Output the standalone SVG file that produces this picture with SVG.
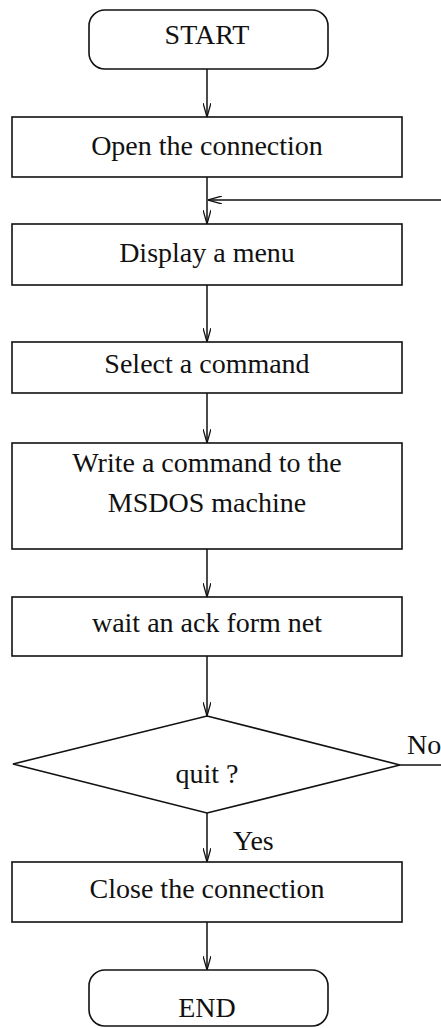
<svg xmlns="http://www.w3.org/2000/svg" width="441" height="1028" viewBox="0 0 441 1028">
  <style>
    .box { fill: #ffffff; stroke: #111111; stroke-width: 1.6; }
    .lbl { font-family: "Liberation Serif", "Times New Roman", serif; font-size: 28px; fill: #111111; text-anchor: middle; }
    .side { font-family: "Liberation Serif", "Times New Roman", serif; font-size: 28px; fill: #111111; }
    .wire { fill: none; stroke: #111111; stroke-width: 1.5; }
  </style>
  <defs>
    <!-- open V arrowhead -->
    <marker id="v" viewBox="0 0 14 8" refX="14" refY="4" markerWidth="14" markerHeight="8" markerUnits="userSpaceOnUse" orient="auto">
      <path d="M0,0 L14,4 L0,8" fill="none" stroke="#111111" stroke-width="1.3"/>
    </marker>
  </defs>
  <rect width="441" height="1028" fill="#ffffff"/>

  <g id="connectors">
    <path class="wire" d="M207,69 V117" marker-end="url(#v)"/>
    <path class="wire" d="M207,177 V224" marker-end="url(#v)"/>
    <path class="wire" d="M441,200 H208" marker-end="url(#v)"/>
    <path class="wire" d="M207,285 V342" marker-end="url(#v)"/>
    <path class="wire" d="M207,393 V443" marker-end="url(#v)"/>
    <path class="wire" d="M207,549 V597" marker-end="url(#v)"/>
    <path class="wire" d="M207,656 V716" marker-end="url(#v)"/>
    <path class="wire" d="M207,813 V862" marker-end="url(#v)"/>
    <path class="wire" d="M207,922 V970" marker-end="url(#v)"/>
    <path class="wire" d="M400,765 H441"/>
    <text class="side" x="233" y="850">Yes</text>
    <text class="side" x="407" y="754">No</text>
  </g>

  <g id="start">
    <rect class="box" x="89" y="10" width="239" height="59" rx="16"/>
    <text class="lbl" x="207" y="44">START</text>
  </g>
  <g id="open">
    <rect class="box" x="12" y="117" width="390" height="60"/>
    <text class="lbl" x="207" y="155">Open the connection</text>
  </g>
  <g id="menu">
    <rect class="box" x="12" y="224" width="390" height="61"/>
    <text class="lbl" x="207" y="262">Display a menu</text>
  </g>
  <g id="select">
    <rect class="box" x="12" y="342" width="390" height="51"/>
    <text class="lbl" x="207" y="373">Select a command</text>
  </g>
  <g id="write">
    <rect class="box" x="12" y="443" width="390" height="106"/>
    <text class="lbl" x="207" y="472">Write a command to the</text>
    <text class="lbl" x="207" y="512">MSDOS machine</text>
  </g>
  <g id="wait">
    <rect class="box" x="12" y="597" width="390" height="59"/>
    <text class="lbl" x="207" y="632">wait an ack form net</text>
  </g>
  <g id="quit">
    <polygon class="box" points="207,716 400,765 207,813 13,764"/>
    <text class="lbl" x="207" y="783">quit ?</text>
  </g>
  <g id="close">
    <rect class="box" x="12" y="862" width="390" height="60"/>
    <text class="lbl" x="207" y="898">Close the connection</text>
  </g>
  <g id="end">
    <rect class="box" x="89" y="970" width="239" height="56" rx="16"/>
    <text class="lbl" x="207" y="1017">END</text>
  </g>
</svg>
